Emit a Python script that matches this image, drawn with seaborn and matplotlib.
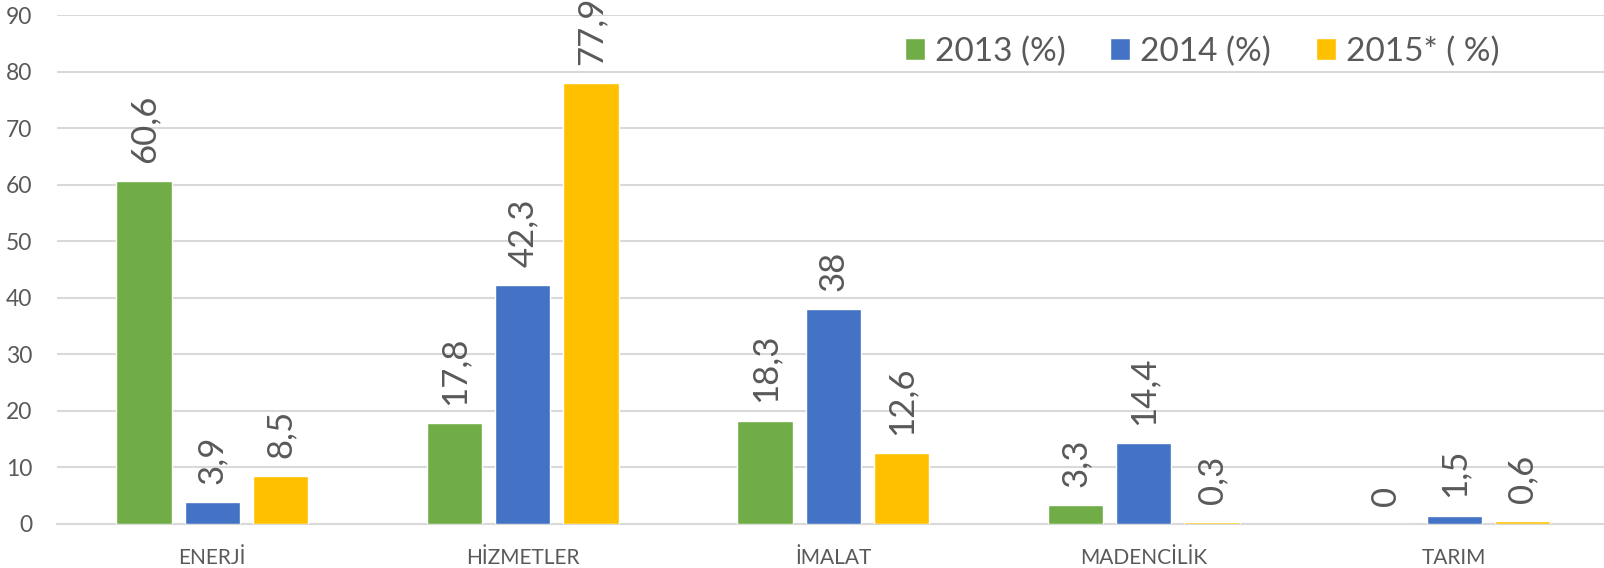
import pandas as pd
import matplotlib.pyplot as plt
import seaborn as sns

sectors = ['ENERJİ', 'HİZMETLER', 'İMALAT', 'MADENCİLİK', 'TARIM']
series = ['2013 (%)', '2014 (%)', '2015* ( %)']
v2013 = [60.6, 17.8, 18.3, 3.3, 0]
v2014 = [3.9, 42.3, 38, 14.4, 1.5]
v2015 = [8.5, 77.9, 12.6, 0.3, 0.6]
colors = ['#70AD47', '#4472C4', '#FFC000']

df = pd.DataFrame({
    'sektor': sectors * 3,
    'seri': [s for s in series for _ in sectors],
    'deger': v2013 + v2014 + v2015,
})

sns.set_style('white')
plt.rcParams['font.family'] = ['Lato', 'DejaVu Sans']
txt = '#595959'

fig = plt.figure(figsize=(16.04, 5.68), dpi=100)
ax = fig.add_axes([57 / 1604, 44 / 568, 1547 / 1604, 509 / 568])
sns.barplot(data=df, x='sektor', y='deger', hue='seri', palette=colors,
            width=0.66, gap=0.19, saturation=1, ax=ax)

for cont in ax.containers:
    vals = [b.get_height() for b in cont]
    ax.bar_label(cont, labels=[f'{v:g}'.replace('.', ',') for v in vals],
                 rotation=90, padding=13, fontsize=25, color=txt)

ax.set_ylim(0, 90)
ax.set_xlim(-0.5, -0.5 + 1547 / 310.5)
ax.set_yticks(range(0, 91, 10))
ax.yaxis.grid(True, color='#D9D9D9', linewidth=1.5)
ax.set_axisbelow(True)
for s in ['left', 'right', 'top']:
    ax.spines[s].set_visible(False)
ax.spines['bottom'].set_color('#D9D9D9')
ax.spines['bottom'].set_linewidth(1.5)
ax.spines['bottom'].set_zorder(0.6)
ax.tick_params(axis='y', labelsize=16.5, colors=txt, length=0, pad=18)
ax.tick_params(axis='x', labelsize=15, colors=txt, length=0, pad=17)
ax.set_xlabel('')
ax.set_ylabel('')

ax.legend(ncol=3, frameon=False, fontsize=24, loc='upper right',
          bbox_to_anchor=(0.952, 1.017), handlelength=0.6, handleheight=0.6,
          handletextpad=0.3, columnspacing=1.35, labelcolor=txt)

plt.savefig('out.png', dpi=100)
